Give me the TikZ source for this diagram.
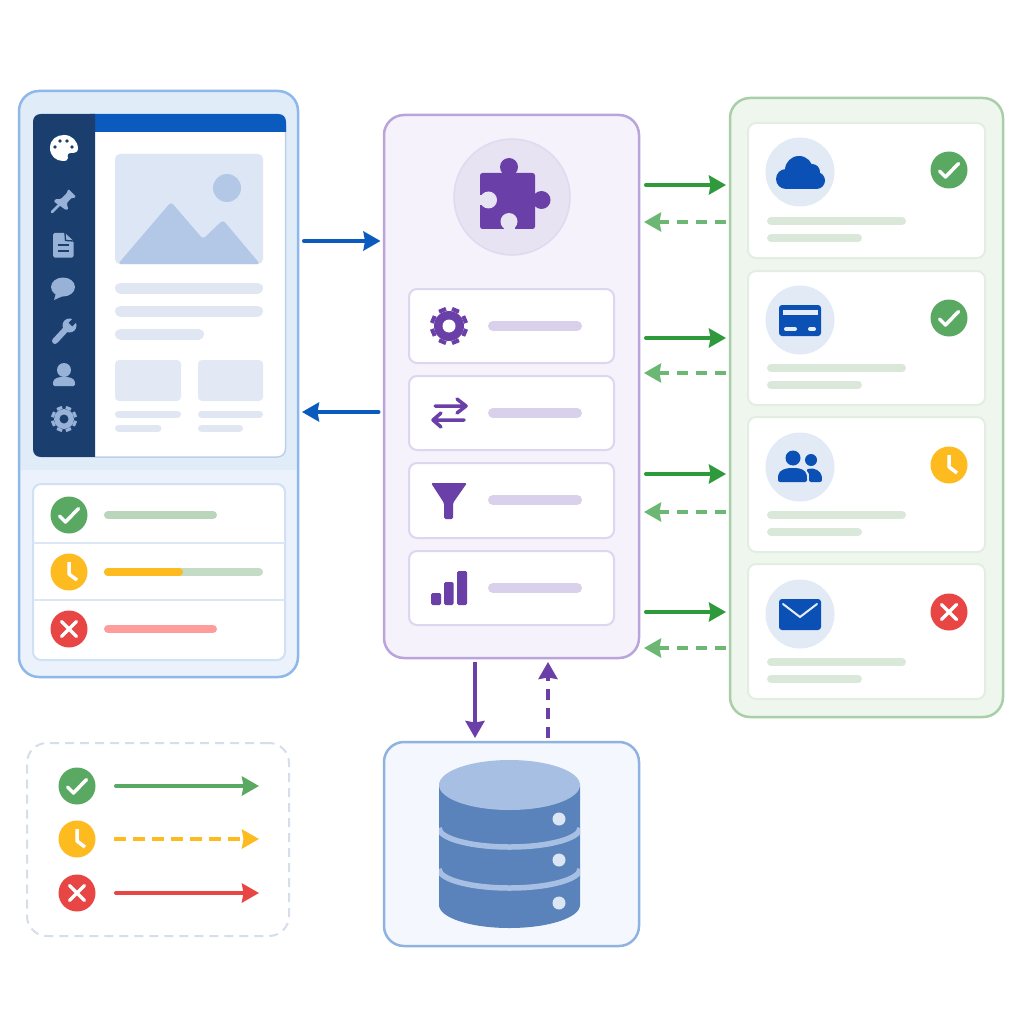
\documentclass[tikz,border=0pt]{standalone}
\usetikzlibrary{arrows.meta}
\definecolor{navy}{HTML}{1A3F6F}
\definecolor{blueA}{HTML}{0A5BBD}
\definecolor{blueB}{HTML}{0B50B4}
\definecolor{sideIc}{HTML}{98B1D6}
\definecolor{pur}{HTML}{6A3FA8}
\definecolor{okC}{HTML}{5AA963}
\definecolor{waitC}{HTML}{FDBB1F}
\definecolor{errC}{HTML}{E84545}
\definecolor{grn}{HTML}{2E9A3C}
\definecolor{grnL}{HTML}{6CB774}
\definecolor{grnBar}{HTML}{DAE8DA}
\definecolor{slate}{HTML}{E0E7F3}
\definecolor{cmsEdge}{HTML}{8FB8EA}
\definecolor{cmsA}{HTML}{E1ECF9}
\definecolor{cmsB}{HTML}{EBF2FC}
\definecolor{pageEdge}{HTML}{BDD0EB}
\definecolor{imgBg}{HTML}{DCE6F4}
\definecolor{imgFg}{HTML}{B3C8E6}
\definecolor{cardBg}{HTML}{E2E8F4}
\definecolor{listEdge}{HTML}{D0E0F5}
\definecolor{listDiv}{HTML}{DCE7F6}
\definecolor{barG}{HTML}{B9D6BA}
\definecolor{barH}{HTML}{C4DCC5}
\definecolor{barR}{HTML}{FF9C9C}
\definecolor{hubBg}{HTML}{F5F2FB}
\definecolor{hubEdge}{HTML}{B9A5DC}
\definecolor{hubC}{HTML}{E8E3F3}
\definecolor{hubCe}{HTML}{E0D9F0}
\definecolor{hubCard}{HTML}{DDD6EE}
\definecolor{hubBar}{HTML}{D9D0EC}
\definecolor{extBg}{HTML}{EFF6EE}
\definecolor{extEdge}{HTML}{A9CFA9}
\definecolor{extCard}{HTML}{E3EEE3}
\definecolor{iconBg}{HTML}{E2EAF6}
\definecolor{dbBg}{HTML}{F4F7FD}
\definecolor{dbEdge}{HTML}{8FB3E0}
\definecolor{dbA}{HTML}{5A83BC}
\definecolor{dbB}{HTML}{A6BFE2}
\definecolor{dbDot}{HTML}{DBE5F4}
\definecolor{legEdge}{HTML}{D5DEEA}
\tikzset{
  bx/.style={rectangle,inner sep=0pt,outer sep=0pt},
  panel/.style={bx,line width=2.5pt,rounded corners=20pt},
  cardbox/.style={bx,fill=white,line width=2pt,rounded corners=8pt},
  stat/.style={circle,inner sep=0pt,outer sep=0pt,minimum size=37pt},
  glyph/.style={white,line width=3.5pt,line cap=round,line join=round},
  flowtip/.style={-{Stealth[inset=1.5pt,length=17pt,width=19pt]},line width=3.5pt},
  flowdash/.style={flowtip,dash pattern=on 11pt off 8pt},
}
% rectangular node given by its corners
\newcommand\rnode[6]{%
  \pgfmathsetmacro\rcx{(#3+#5)/2}\pgfmathsetmacro\rcy{(#4+#6)/2}%
  \pgfmathsetmacro\rw{#5-#3}\pgfmathsetmacro\rh{#6-#4}%
  \node[#2,minimum width=\rw pt,minimum height=\rh pt] (#1) at (\rcx,\rcy) {};}
\newcommand\pillbar[5]{\draw[line cap=round,line width=#4pt,#5] (#1,#3) -- (#2,#3);}
\newcommand\statok[3]{\node[stat,fill=okC] (#1) at (#2,#3) {};
  \draw[glyph,shift={(#2,#3)}] (-9.5,1) -- (-3.5,7) -- (9.5,-6.5);}
\newcommand\statwait[3]{\node[stat,fill=waitC] (#1) at (#2,#3) {};
  \draw[glyph,shift={(#2,#3)},line cap=butt] (0,-10) -- (0,2) -- (8,8);}
\newcommand\staterr[3]{\node[stat,fill=errC] (#1) at (#2,#3) {};
  \draw[glyph,shift={(#2,#3)}] (-7.5,-7.5) -- (7.5,7.5) (-7.5,7.5) -- (7.5,-7.5);}
% gear: x y outer body hole tooth colour holecolour
\newcommand\cog[8]{\begin{scope}[shift={(#1,#2)}]
  \foreach \a in {22.5,67.5,...,337.5}{\draw[#7,line width=#6pt] (\a:#4) -- (\a:#3);}
  \fill[#7] (0,0) circle[radius=#4];
  \fill[#8] (0,0) circle[radius=#5];
\end{scope}}
\begin{document}
\begin{tikzpicture}[x=1pt,y=-1pt]
\useasboundingbox (0,0) rectangle (1024,1024);
\fill[white] (0,0) rectangle (1024,1024);

%------------ CMS panel
\fill[cmsA,rounded corners=20pt] (19,91) rectangle (298,677);
\fill[cmsB,rounded corners=20pt] (19,470) [sharp corners] -- (298,470) [rounded corners=20pt] -- (298,677) -- (19,677) [sharp corners] -- (19,470) -- cycle;
\rnode{cms}{panel,draw=cmsEdge}{19}{91}{298}{677}
% page
\fill[white,rounded corners=8pt] (33,114) rectangle (285.5,457);
\draw[pageEdge,line width=1.5pt,rounded corners=8pt] (95,457) -- (285.5,457) -- (285.5,125);
\fill[blueA] (90,132) -- (90,114) -- (278,114) .. controls (283,114) and (286,117) .. (286,122) -- (286,132) -- cycle;
\fill[navy] (95,114) -- (41,114) .. controls (36,114) and (33,117) .. (33,122) -- (33,449) .. controls (33,454) and (36,457) .. (41,457) -- (95,457) -- cycle;
% image
\fill[imgBg,rounded corners=5pt] (115,154) rectangle (263,264);
\fill[imgFg] (227,188) circle[radius=14];
\fill[imgFg,rounded corners=3pt] (118,264) -- (171,202) -- (203,239) -- (223,220) -- (260,264) -- cycle;
\pillbar{120.5}{257.5}{288}{11}{slate}
\pillbar{120.5}{257.5}{311}{11}{slate}
\pillbar{120.5}{198.5}{334}{11}{slate}
\fill[cardBg,rounded corners=4pt] (115,360) rectangle (181,401);
\fill[cardBg,rounded corners=4pt] (198,360) rectangle (263,401);
\pillbar{118.5}{177.5}{414}{7}{slate}
\pillbar{201.5}{259.5}{414}{7}{slate}
\pillbar{118.5}{158}{428}{7}{slate}
\pillbar{201.5}{239.5}{428}{7}{slate}
% sidebar icons
\fill[white] (50,148) .. controls (50,139) and (57,135) .. (64,135) .. controls (72,135) and (78,141) .. (78,149) .. controls (78,153) and (73,153) .. (71,153) .. controls (68,153) and (67,155) .. (68,158) .. controls (68,161) and (65,161) .. (63,161) .. controls (56,161) and (50,156) .. (50,148) -- cycle;
\foreach \px/\py in {55/147,60/141,67/141,72/147}{\fill[navy] (\px,\py) circle[radius=1.8];}
\fill[sideIc,rounded corners=1pt] (68.3,189) -- (76,196.7) -- (73.3,198.3) -- (71.7,197.7) -- (66.7,203.3) -- (68.3,209.3) -- (66,210) -- (54,201.7) -- (55,199.3) -- (60.7,199) -- (66.7,193.3) -- cycle;
\draw[sideIc,line width=2.5pt,line cap=round] (60,204) -- (52,212);
\fill[sideIc,rounded corners=1.5pt] (53,233) -- (65,233) -- (73.5,241) -- (73.5,257.5) -- (53,257.5) -- cycle;
\draw[navy,line width=1.3pt] (65,233) -- (65.5,240.5) -- (73.5,241);
\draw[navy,line width=2pt] (58,245) -- (69,245) (58,251) -- (69,251);
\fill[sideIc] (63,287) ellipse[x radius=12,y radius=9.5];
\fill[sideIc] (56,293) -- (54,300) -- (63,296) -- cycle;
\fill[sideIc] (69.5,325.5) circle[radius=7];
\draw[sideIc,line width=6pt,line cap=round] (55,341) -- (67,328);
\draw[navy,line width=5pt] (70.5,324.5) -- (78,317);
\fill[sideIc] (64,370) circle[radius=7];
\fill[sideIc,rounded corners=1.5pt] (53,386) -- (53,383) .. controls (54,378) and (59,377) .. (64,377) .. controls (69,377) and (74,378) .. (75,383) -- (75,386) -- cycle;
\cog{64}{419}{13}{10}{4.5}{5.5}{sideIc}{navy}

% status list
\rnode{stlist}{cardbox,draw=listEdge}{33}{484}{285}{660}
\draw[listDiv,line width=1.5pt] (33,543) -- (285,543) (33,600) -- (285,600);
\statok{s1}{69}{515}
\statwait{s2}{69}{572}
\staterr{s3}{69}{629}
\pillbar{108}{213}{515}{8}{barG}
\pillbar{108}{259}{572}{8}{barH}
\pillbar{108}{179}{572}{8}{waitC}
\pillbar{108}{213}{629}{8}{barR}

%------------ Hub
\rnode{hub}{panel,fill=hubBg,draw=hubEdge}{384}{115}{639}{658}
\node[circle,inner sep=0pt,minimum size=116pt,fill=hubC,draw=hubCe,line width=1.5pt] (hubic) at (512,197) {};
\fill[pur,rounded corners=2.5pt] (480,173) rectangle (535,229);
\fill[pur] (509,167) circle[radius=9];
\fill[pur] (503,170) rectangle (515,176);
\fill[pur] (541.5,200) circle[radius=9];
\fill[pur] (533,194) rectangle (538,206);
\fill[hubC] (488.5,200) circle[radius=8.5];
\fill[hubC] (478,195) rectangle (488,205);
\fill[hubC] (509,221.5) circle[radius=8.5];
\fill[hubC] (503.5,221) rectangle (514.5,231);
\foreach \nm/\ya/\yb in {c1/289/363,c2/376/450,c3/463/538,c4/551/625}{
  \rnode{\nm}{cardbox,draw=hubCard}{409}{\ya}{614}{\yb}}
\foreach \yy in {326,413,500,588}{\pillbar{493}{577}{\yy}{10}{hubBar}}
\cog{449}{326}{19}{15}{6.5}{7.5}{pur}{white}
\draw[pur,line width=3.5pt,line cap=round,line join=round] (435,406) -- (465,406) (457,399) -- (466,406) -- (457,413);
\draw[pur,line width=3.5pt,line cap=round,line join=round] (434,420) -- (464,420) (441,413) -- (433,420) -- (441,427);
\fill[pur,rounded corners=1.5pt] (431,483) -- (467,483) -- (453,503) -- (453,519) -- (444,519) -- (444,503) -- cycle;
\fill[pur,rounded corners=1.5pt] (431,593) rectangle (441,605);
\fill[pur,rounded corners=1.5pt] (444,582) rectangle (453.5,605);
\fill[pur,rounded corners=1.5pt] (457,571) rectangle (467,605);

%------------ External services
\rnode{ext}{panel,fill=extBg,draw=extEdge}{730}{98}{1003}{717}
\foreach \nm/\ya/\yb in {e1/123/258,e2/271/405,e3/417/552,e4/564/699}{
  \rnode{\nm}{cardbox,draw=extCard}{748}{\ya}{985}{\yb}}
\foreach \yy in {172,320,467,614}{\fill[iconBg] (800,\yy) circle[radius=34.5];}
\foreach \yy in {221,368,515,662}{\pillbar{771}{902}{\yy}{8}{grnBar}}
\foreach \yy in {238,385,532,679}{\pillbar{771}{858}{\yy}{8}{grnBar}}
\statok{x1}{949}{170}
\statok{x2}{949}{318}
\statwait{x3}{949}{465}
\staterr{x4}{949}{612}
% cloud
\fill[blueB] (799,170) circle[radius=14];
\fill[blueB] (786,179) circle[radius=10];
\fill[blueB] (816.5,180.5) circle[radius=8.5];
\fill[blueB] (812,172) circle[radius=8];
\fill[blueB] (786,176) rectangle (817,189);
% credit card
\fill[blueB,rounded corners=3pt] (779,305) rectangle (821,336);
\fill[white!90!blueB] (783,310) rectangle (818,315);
\draw[white!90!blueB,line width=4pt,line cap=round] (786,329) -- (795,329) (810,329) -- (814,329);
% people
\fill[blueB] (793,458) circle[radius=7.5];
\fill[blueB] (811,460) circle[radius=6];
\fill[blueB,rounded corners=2pt] (778,482) -- (778,477) .. controls (779,470) and (786,468) .. (793,468) .. controls (800,468) and (806,470) .. (807,477) -- (807,482) -- cycle;
\fill[blueB,rounded corners=2pt] (809,482) -- (809,476) .. controls (809,473) and (807,471) .. (806,469.5) .. controls (814,467) and (821,471) .. (822,478) -- (822,482) -- cycle;
% mail
\fill[blueB,rounded corners=3pt] (779,599) rectangle (821,630);
\draw[white!90!blueB,line width=2pt,line cap=round,line join=round] (783,604) -- (800,617) -- (817,604);

%------------ Database
\rnode{db}{panel,fill=dbBg,draw=dbEdge}{384}{742}{639}{946}
\begin{scope}
\clip (439,785) -- (439,905) arc[start angle=180,end angle=360,x radius=70.5,y radius=-23] -- (580,785) -- cycle;
\fill[dbA] (430,780) rectangle (590,935);
\foreach \yy in {828,869}{\draw[dbB,line width=5.5pt] (439,\yy) arc[start angle=180,end angle=360,x radius=70.5,y radius=-19];}
\end{scope}
\fill[dbB] (509.5,785) ellipse[x radius=70.5,y radius=25];
\foreach \yy in {819,860,903}{\fill[dbDot] (559,\yy) circle[radius=6.5];}

%------------ Connectors
\coordinate (a1) at (0,241); \coordinate (a2) at (0,412);
\draw[flowtip,blueA,line cap=round,shorten <=5.75pt,shorten >=3.5pt] (cms.east |- a1) -- (hub.west |- a1);
\draw[flowtip,blueA,line cap=round,shorten <=5.25pt,shorten >=4pt] (hub.west |- a2) -- (cms.east |- a2);
\foreach \p in {185,338,474,612}{
  \coordinate (g) at (0,\p);
  \draw[flowtip,grn,line cap=round,shorten <=6.75pt,shorten >=4pt] (hub.east |- g) -- (ext.west |- g);}
\foreach \p in {222,373,512,648}{
  \coordinate (g) at (0,\p);
  \draw[flowdash,grnL,shorten <=4pt,shorten >=5pt] (ext.west |- g) -- (hub.east |- g);}
\coordinate (d1) at (475,0); \coordinate (d2) at (548,0);
\draw[flowtip,pur,shorten <=4pt,shorten >=4pt] (hub.south -| d1) -- (db.north -| d1);
\draw[flowdash,pur,shorten <=4pt,shorten >=4pt] (db.north -| d2) -- (hub.south -| d2);

%------------ Legend
\rnode{leg}{bx,draw=legEdge,line width=2pt,rounded corners=20pt,dash pattern=on 9pt off 6pt}{27}{743}{289}{936}
\statok{l1}{77}{786}
\statwait{l2}{77}{839}
\staterr{l3}{77}{893}
\coordinate (l1e) at (259,786); \coordinate (l2e) at (259,839); \coordinate (l3e) at (259,893);
\draw[flowtip,okC,line cap=round,shorten <=20.25pt] (l1.east) -- (l1e);
\draw[flowtip,waitC,shorten <=18.5pt,dash pattern=on 12pt off 7pt] (l2.east) -- (l2e);
\draw[flowtip,errC,line cap=round,shorten <=20.25pt] (l3.east) -- (l3e);
\end{tikzpicture}
\end{document}
